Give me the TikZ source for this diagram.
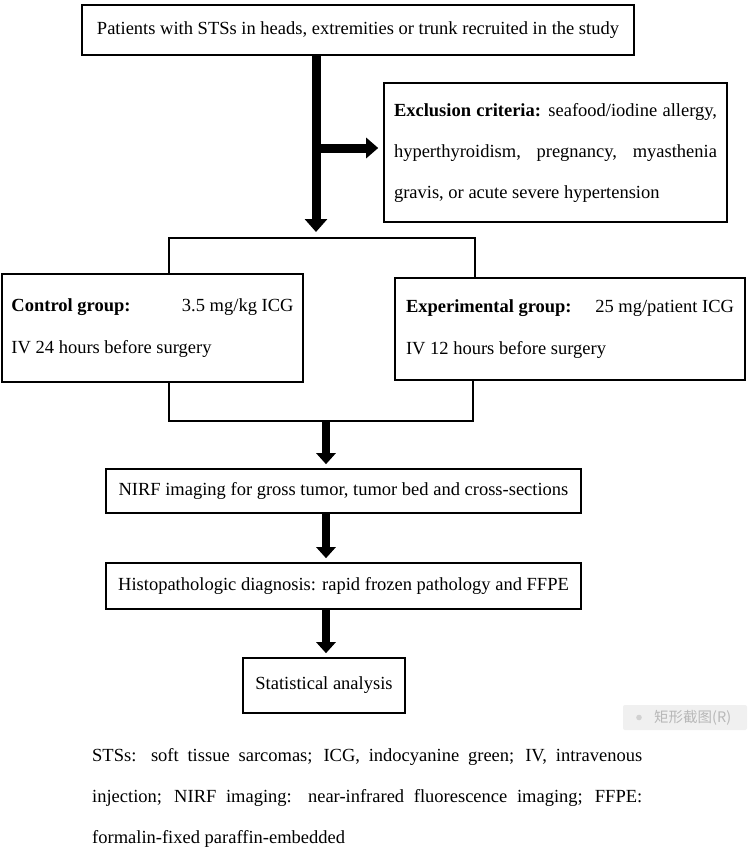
\documentclass[tikz,border=0pt]{standalone}
\usepackage{fontspec}
\setmainfont{Liberation Serif}
\newfontfamily\cjkfont{Noto Sans CJK SC}
\usetikzlibrary{arrows.meta,calc}
\begin{document}
\begin{tikzpicture}[x=1pt,y=-1pt,
  txt/.style={font=\fontsize{18.5}{22}\selectfont},
  box/.style={draw, line width=1.6pt, inner sep=0pt, txt},
  grpbox/.style={draw, line width=2.3pt, inner sep=0pt, font=\fontsize{18.5}{42}\selectfont, align=left},
  link/.style={line width=1.2pt},
  bigarrow/.style={line width=9pt, -{Triangle[length=13pt,width=22pt]}},
  sidearrow/.style={line width=9pt, -{Triangle[length=12pt,width=20pt]}},
  smallarrow/.style={line width=8.5pt, -{Triangle[length=11pt,width=19pt]}},
]
\useasboundingbox (0,0) rectangle (750,852);
\fill[white] (0,0) rectangle (750,852);

% boxes
\node[box, minimum width=552pt, minimum height=50pt] (top) at (358,30)
  {Patients with STSs in heads, extremities or trunk recruited in the study};

\node[box, minimum width=343pt, minimum height=139pt, align=left,
      font=\fontsize{18.5}{41}\selectfont] (excl) at (555.5,152.5)
  {\makebox[323pt][s]{\textbf{Exclusion criteria:} seafood/iodine allergy,}\\
   \makebox[323pt][s]{hyperthyroidism, pregnancy, myasthenia}\\
   gravis, or acute severe hypertension};

\node[grpbox, minimum width=301pt, minimum height=108pt] (ctrl) at (152.5,328)
  {\makebox[282pt]{\textbf{Control group:}\hfill 3.5 mg/kg ICG}\\
   IV 24 hours before surgery};

\node[grpbox, minimum width=350pt, minimum height=102pt] (expt) at (570,329)
  {\makebox[328pt]{\textbf{Experimental group:}\hfill 25 mg/patient ICG}\\
   IV 12 hours before surgery};

\node[box, minimum width=475pt, minimum height=44pt] (nirf) at (343.5,491)
  {NIRF imaging for gross tumor, tumor bed and cross-sections};

\node[box, minimum width=475pt, minimum height=46pt] (histo) at (343.5,586)
  {Histopathologic diagnosis: rapid frozen pathology and FFPE};

\node[box, minimum width=162pt, minimum height=55pt] (stat) at (324,685.5)
  {Statistical analysis};

% caption
\node[anchor=north west, inner sep=0pt, align=left,
      font=\fontsize{18.5}{41}\selectfont] (cap) at (92,748)
  {\makebox[550pt][s]{STSs: soft tissue sarcomas; ICG, indocyanine green; IV, intravenous}\\
   \makebox[550pt][s]{injection; NIRF imaging: near-infrared fluorescence imaging; FFPE:}\\
   formalin-fixed paraffin-embedded};

% watermark
\node[fill=black!6, rounded corners=2pt, minimum width=124pt, minimum height=25pt,
      inner sep=0pt] (wm) at (685,717.5) {};
\fill[black!18] (639,717.5) circle (2.8pt);
\node[anchor=west, inner sep=0pt, text=black!28, font=\cjkfont\fontsize{14.5}{16}\selectfont]
  (wmtext) at (654,717.5) {矩形截图(R)};

% coordinates
\coordinate (mx) at (316,0);
\coordinate (lx) at (326,0);
\coordinate (btl) at (169,238);
\coordinate (btr) at (475,238);
\coordinate (bbl) at (169,421);
\coordinate (bbr) at (473,421);
\coordinate (sidefrom) at (316,148);

% bracket lines
\draw[link] (ctrl.north -| btl) -- (btl) -- (btr) -- (expt.north -| btr);
\draw[link] (ctrl.south -| bbl) -- (bbl) -- (bbr) -- (expt.south -| bbr);

% arrows
\draw[bigarrow] (top.south -| mx) -- ($(btl -| mx)+(0,-6)$);
\draw[sidearrow] (sidefrom) -- ($(excl.west |- sidefrom)+(-5,0)$);
\draw[smallarrow] ($(bbl -| lx)+(0,1)$) -- ($(nirf.north -| lx)+(0,-4)$);
\draw[smallarrow] (nirf.south -| lx) -- ($(histo.north -| lx)+(0,-4)$);
\draw[smallarrow] (histo.south -| lx) -- ($(stat.north -| lx)+(0,-4)$);
\end{tikzpicture}
\end{document}
